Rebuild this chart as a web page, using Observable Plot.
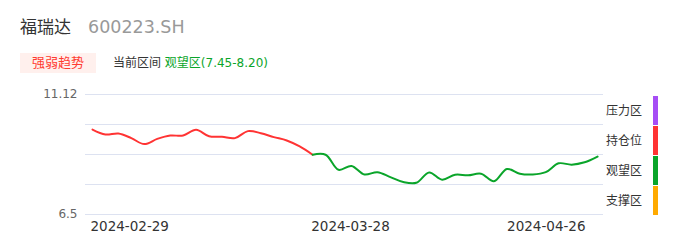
<!DOCTYPE html>
<html>
<head>
<meta charset="utf-8">
<script src="https://cdn.jsdelivr.net/npm/d3@7"></script>
<script src="https://cdn.jsdelivr.net/npm/@observablehq/plot@0.6"></script>
<style>
  html, body { margin: 0; padding: 0; background: #fff; }
  body { width: 686px; height: 247px; position: relative; overflow: hidden;
         font-family: "DejaVu Sans", "Noto Sans CJK SC", sans-serif; }
  .abs { position: absolute; white-space: nowrap; }
  #name { left: 20px; top: 16px; font-size: 17px; color: #333; line-height: 22px; }
  #code { left: 88px; top: 16px; font-size: 17.5px; color: #999; line-height: 22px; }
  #badge { left: 20px; top: 53px; width: 76px; height: 20px; background: #fff0ed;
           color: #ff3b30; font-size: 13px; line-height: 20px; text-align: center; }
  #cur { left: 113px; top: 53px; font-size: 12px; line-height: 20px; color: #333; }
  #cur span { color: #0aa52a; }
  #chart { left: 0; top: 80px; }
  .lg { position: absolute; left: 606px; font-size: 12px; color: #333; line-height: 16px; }
  .bar { position: absolute; left: 653px; width: 5px; }
</style>
</head>
<body>
<div class="abs" id="name">福瑞达</div>
<div class="abs" id="code">600223.SH</div>
<div class="abs" id="badge">强弱趋势</div>
<div class="abs" id="cur">当前区间 <span>观望区(7.45-8.20)</span></div>
<div class="abs" id="chart"></div>
<div id="legend"></div>
<script>
// ---- data ----
const dates = [
  "2024-02-29","2024-03-01","2024-03-04","2024-03-05","2024-03-06","2024-03-07","2024-03-08",
  "2024-03-11","2024-03-12","2024-03-13","2024-03-14","2024-03-15",
  "2024-03-18","2024-03-19","2024-03-20","2024-03-21","2024-03-22",
  "2024-03-25","2024-03-26","2024-03-27","2024-03-28","2024-03-29",
  "2024-04-01","2024-04-02","2024-04-03",
  "2024-04-08","2024-04-09","2024-04-10","2024-04-11","2024-04-12",
  "2024-04-15","2024-04-16","2024-04-17","2024-04-18","2024-04-19",
  "2024-04-22","2024-04-23","2024-04-24","2024-04-25","2024-04-26"
];
const prices = [
  9.77, 9.58, 9.62, 9.44, 9.21, 9.41, 9.54, 9.54, 9.76, 9.51,
  9.49, 9.44, 9.71, 9.63, 9.48, 9.35, 9.12, 8.80, 8.80, 8.22,
  8.37, 8.04, 8.13, 7.94, 7.75, 7.72, 8.12, 7.84, 8.03, 8.01,
  8.07, 7.78, 8.25, 8.07, 8.04, 8.13, 8.47, 8.42, 8.51, 8.73
];
const xTickLabels = ["2024-02-29", "2024-03-28", "2024-04-26"];
const yTickLabels = [6.5, 11.12];
const gridValues = [6.5, 7.655, 8.81, 9.965, 11.12];
const zoneNames = ["压力区", "持仓位", "观望区", "支撑区"];
const zoneColors = ["#a64df5", "#ff3333", "#0aa52a", "#ffaa00"];
const zoneTop = [11.12, 9.965, 8.81, 7.655];
const zoneBottom = [9.965, 8.81, 7.655, 6.5];

// ---- build ----
const zoneOf = v => {
  for (let k = 0; k < zoneTop.length; k++) if (v >= zoneBottom[k]) return k;
  return zoneTop.length - 1;
};
// split the line into runs of the same zone; the previous run extends to the joint point
const segRows = [];
let seg = 0, prevZone = null;
prices.forEach((v, i) => {
  const z = zoneOf(v);
  if (prevZone !== null && z !== prevZone) {
    segRows.push({i, v, seg, color: zoneColors[prevZone]});
    seg++;
  }
  segRows.push({i, v, seg, color: zoneColors[z]});
  prevZone = z;
});
const xt = xTickLabels.map(d => ({i: dates.indexOf(d), label: d}));

const W = 686, H = 167;
const chart = Plot.plot({
  width: W, height: H,
  marginTop: 14, marginBottom: 33, marginLeft: 85, marginRight: 83,
  style: {fontFamily: '"DejaVu Sans", "Noto Sans CJK SC", sans-serif', background: "transparent"},
  x: {domain: [-0.54, dates.length - 1 + 0.46], axis: null},
  y: {domain: [6.5, 11.12], axis: null},
  color: {type: "identity"},
  marks: [
    Plot.ruleY(gridValues, {stroke: "#dde2f1", strokeWidth: 1}),
    Plot.text(yTickLabels, {y: d => d, text: d => String(d), frameAnchor: "left",
      textAnchor: "end", dx: -8, fill: "#666", fontSize: 12}),
    Plot.line(segRows, {x: "i", y: "v", z: "seg", stroke: "color", strokeWidth: 2,
      curve: "catmull-rom"}),
    Plot.text(xt.slice(0, 1), {x: "i", text: "label", frameAnchor: "bottom", dy: 16,
      textAnchor: "start", dx: -2, fill: "#333", fontSize: 13.5}),
    Plot.text(xt.slice(1, 2), {x: "i", text: "label", frameAnchor: "bottom", dy: 16,
      textAnchor: "middle", dx: -1, fill: "#333", fontSize: 13.5}),
    Plot.text(xt.slice(2), {x: "i", text: "label", frameAnchor: "bottom", dy: 16,
      textAnchor: "end", dx: -12, fill: "#333", fontSize: 13.5})
  ]
});
document.getElementById("chart").appendChild(chart);

// legend (zone bar)
const ys = chart.scale("y");
const lg = document.getElementById("legend");
zoneNames.forEach((n, k) => {
  const top = 80 + ys.apply(zoneTop[k]) + 2, bot = 80 + ys.apply(zoneBottom[k]) + 1;
  const bar = document.createElement("div");
  bar.className = "bar";
  bar.style.top = top + "px"; bar.style.height = (bot - top) + "px";
  bar.style.background = zoneColors[k];
  lg.appendChild(bar);
  const t = document.createElement("div");
  t.className = "lg";
  t.textContent = n;
  t.style.top = ((top + bot) / 2 - 8) + "px";
  lg.appendChild(t);
});
</script>
</body>
</html>
